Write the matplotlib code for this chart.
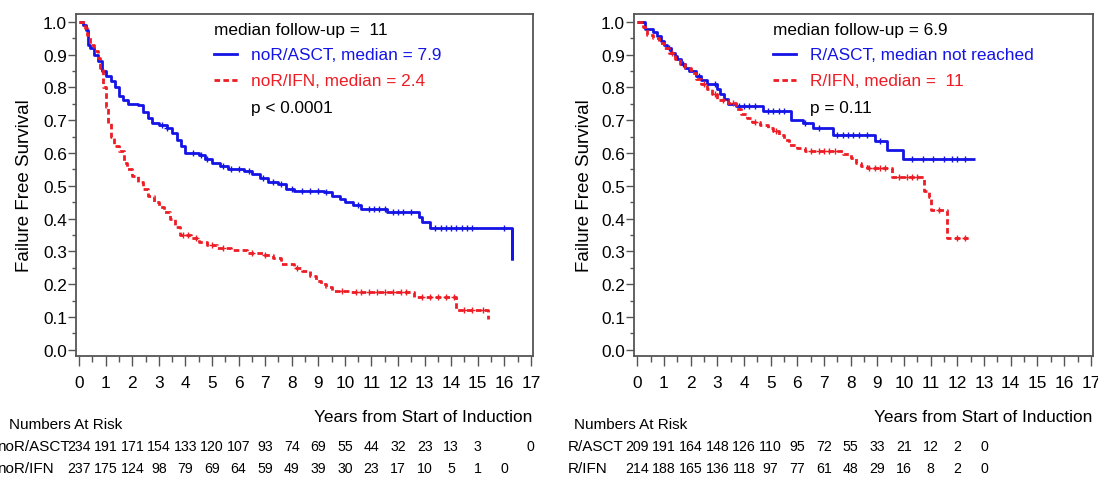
import numpy as np
import matplotlib
matplotlib.use("Agg")
import matplotlib.pyplot as plt
from matplotlib.lines import Line2D
import matplotlib.transforms as mtransforms

plt.rcParams['font.family'] = ['Liberation Sans', 'DejaVu Sans']

# ---------------- data ----------------
# Left panel: no remission
noR_ASCT_t = [0, 0.15, 0.25, 0.32, 0.4, 0.55, 0.7, 0.85, 1.0, 1.2, 1.35, 1.5, 1.65, 1.85, 2.2, 2.4,
              2.6, 2.75, 3.0, 3.3, 3.5, 3.7, 3.85, 4.0, 4.5, 4.75, 5.0, 5.3, 5.6, 6.2, 6.5, 6.8, 7.1,
              7.5, 7.8, 8.1, 9.2, 9.5, 9.8, 10.0, 10.3, 10.6, 11.6, 12.8, 12.9, 13.2, 16.3]
noR_ASCT_s = [1.0, 0.99, 0.975, 0.93, 0.92, 0.9, 0.88, 0.85, 0.835, 0.82, 0.8, 0.775, 0.76, 0.75,
              0.745, 0.725, 0.705, 0.69, 0.685, 0.675, 0.66, 0.64, 0.62, 0.6, 0.595, 0.58, 0.57,
              0.56, 0.55, 0.545, 0.535, 0.525, 0.51, 0.505, 0.49, 0.485, 0.48, 0.47, 0.46, 0.45,
              0.44, 0.43, 0.42, 0.405, 0.39, 0.37, 0.275]
noR_ASCT_end = 16.3
noR_ASCT_cens = [3.1, 3.3, 4.3, 4.6, 4.8, 5.4, 5.7, 6.0, 6.4, 6.9, 7.3, 7.6, 8.0, 8.4, 8.7, 9.0,
                 9.3, 10.5, 10.9, 11.1, 11.3, 11.5, 11.8, 12.0, 12.2, 12.5, 13.4, 13.6, 13.8, 14.0,
                 14.2, 14.4, 14.6, 14.8, 16.0]

noR_IFN_t = [0, 0.2, 0.3, 0.4, 0.55, 0.7, 0.8, 0.9, 1.0, 1.1, 1.2, 1.3, 1.5, 1.7, 1.8, 2.0, 2.2,
             2.4, 2.6, 2.8, 3.0, 3.2, 3.4, 3.6, 3.8, 4.2, 4.5, 4.8, 5.2, 5.7, 6.3, 6.9, 7.3, 7.6,
             8.1, 8.4, 8.7, 8.9, 9.1, 9.3, 9.5, 10.2, 12.6, 14.2, 15.4]
noR_IFN_s = [1.0, 0.98, 0.96, 0.93, 0.91, 0.89, 0.86, 0.8, 0.74, 0.69, 0.65, 0.62, 0.605, 0.57,
             0.55, 0.53, 0.51, 0.49, 0.47, 0.45, 0.435, 0.42, 0.4, 0.375, 0.35, 0.34, 0.33, 0.32,
             0.31, 0.305, 0.295, 0.29, 0.28, 0.26, 0.25, 0.24, 0.225, 0.21, 0.2, 0.19, 0.18,
             0.175, 0.162, 0.12, 0.095]
noR_IFN_end = 15.4
noR_IFN_cens = [3.9, 4.1, 4.4, 5.0, 5.4, 6.5, 7.0, 8.2, 9.9, 10.4, 10.6, 10.9, 11.2, 11.5, 11.8,
                12.1, 12.3, 12.9, 13.2, 13.5, 13.8, 14.1, 14.5, 14.8, 15.2]

# Right panel: remission
R_ASCT_t = [0, 0.3, 0.6, 0.75, 0.9, 1.0, 1.1, 1.25, 1.4, 1.5, 1.65, 1.8, 1.95, 2.2, 2.4, 2.6, 3.0,
            3.1, 3.25, 3.4, 3.7, 4.7, 5.75, 6.2, 6.6, 7.35, 8.9, 9.35, 9.95]
R_ASCT_s = [1.0, 0.978, 0.97, 0.955, 0.94, 0.93, 0.92, 0.905, 0.895, 0.885, 0.87, 0.86, 0.85,
            0.835, 0.822, 0.81, 0.795, 0.78, 0.765, 0.75, 0.742, 0.727, 0.70, 0.69, 0.675, 0.655,
            0.635, 0.61, 0.583]
R_ASCT_end = 12.65
R_ASCT_cens = [1.2, 1.7, 2.3, 2.9, 3.8, 4.0, 4.2, 4.4, 4.9, 5.1, 5.3, 5.5, 6.3, 6.8, 7.5, 7.7,
               7.9, 8.1, 8.3, 8.6, 9.1, 10.3, 10.7, 11.1, 11.5, 11.8, 12.0, 12.3]

R_IFN_t = [0, 0.2, 0.35, 0.6, 0.8, 1.0, 1.2, 1.4, 1.6, 1.8, 2.0, 2.2, 2.4, 2.6, 2.8, 3.0, 3.4, 3.7,
           3.9, 4.1, 4.3, 4.6, 4.9, 5.1, 5.3, 5.5, 5.7, 6.0, 6.3, 7.7, 8.0, 8.2, 8.4, 8.6, 9.55,
           10.75, 10.95, 11.0, 11.6]
R_IFN_s = [1.0, 0.985, 0.96, 0.95, 0.935, 0.92, 0.905, 0.885, 0.87, 0.86, 0.845, 0.825, 0.81,
           0.795, 0.78, 0.762, 0.752, 0.735, 0.72, 0.705, 0.695, 0.686, 0.675, 0.668, 0.655, 0.64,
           0.625, 0.615, 0.607, 0.598, 0.585, 0.57, 0.56, 0.554, 0.528, 0.483, 0.467, 0.427, 0.34]
R_IFN_end = 12.4
R_IFN_cens = [1.3, 2.5, 2.9, 3.2, 3.6, 4.4, 5.2, 6.5, 6.8, 7.0, 7.2, 7.4, 8.7, 8.9, 9.1, 9.3,
              9.8, 10.1, 10.3, 10.5, 11.3, 12.0, 12.3]

# Numbers at risk (one entry per year 0, 1, 2, ...)
noR_ASCT_risk = ["234", "191", "171", "154", "133", "120", "107", "93", "74", "69", "55", "44",
                 "32", "23", "13", "3", "", "0"]
noR_IFN_risk = ["237", "175", "124", "98", "79", "69", "64", "59", "49", "39", "30", "23", "17",
                "10", "5", "1", "0"]
R_ASCT_risk = ["209", "191", "164", "148", "126", "110", "95", "72", "55", "33", "21", "12", "2", "0"]
R_IFN_risk = ["214", "188", "165", "136", "118", "97", "77", "61", "48", "29", "16", "8", "2", "0"]

x_ticks = list(range(0, 18))
y_ticks = [0.0, 0.1, 0.2, 0.3, 0.4, 0.5, 0.6, 0.7, 0.8, 0.9, 1.0]

BLUE = '#1414e6'
RED = '#ee1c24'
FRAME = '#555555'
FS = 12.4
FS_T = 11.0
FS_N = 10.2

fig = plt.figure(figsize=(10.98, 4.81), dpi=100)
H = 481.0
W = 1098.0


def make_ax(left_px, right_px):
    return fig.add_axes([left_px / W, 1 - 357 / H, (right_px - left_px) / W, (357 - 15) / H])


def km(ax, t, s, end, cens, color, ls):
    t = np.asarray(t, float)
    s = np.asarray(s, float)
    tt = np.append(t, end)
    ss = np.append(s, s[-1])
    ax.step(tt, ss, where='post', color=color, lw=2.0, ls=ls, solid_capstyle='butt')
    c = np.asarray(cens, float)
    idx = np.searchsorted(t, c, side='right') - 1
    ax.plot(c, s[idx], ls='none', marker='+', ms=5, mew=1.0, color=color)


def style(ax, ylab_x):
    ax.set_xlim(-0.12, 17.08)
    ax.set_ylim(-0.019, 1.0235)
    ax.set_xticks(x_ticks)
    ax.set_xticks(np.arange(0.5, 17, 1.0), minor=True)
    ax.set_yticks(y_ticks)
    ax.set_yticklabels([f"{v:.1f}" for v in y_ticks])
    ax.set_yticks(np.arange(0.05, 1.0, 0.1), minor=True)
    for sp in ax.spines.values():
        sp.set_color(FRAME)
        sp.set_linewidth(1.3)
    ax.tick_params(axis='x', which='major', length=7.5, width=1.0, color=FRAME, pad=6,
                   labelsize=FS, direction='out')
    ax.tick_params(axis='x', which='minor', length=4, width=1.0, color=FRAME, direction='out')
    ax.tick_params(axis='y', which='major', length=5.5, width=1.0, color=FRAME, pad=1,
                   labelsize=FS, direction='out')
    ax.tick_params(axis='y', which='minor', length=3, width=1.0, color=FRAME, direction='out')
    ax.set_ylabel("Failure Free Survival", fontsize=13.5)
    ax.yaxis.set_label_coords(ylab_x, 0.5)
    ax.text(0.998, -0.178, "Years from Start of Induction", transform=ax.transAxes,
            ha='right', va='center', fontsize=FS)


def header(ax, lines):
    y_rows = [0.956, 0.883, 0.807, 0.728]
    ax.text(0.302, y_rows[0], lines[0], transform=ax.transAxes, ha='left', va='center',
            fontsize=FS, color='black')
    ax.add_line(Line2D([0.302, 0.352], [y_rows[1]] * 2, transform=ax.transAxes, color=BLUE, lw=2.0))
    ax.add_line(Line2D([0.302, 0.352], [y_rows[2]] * 2, transform=ax.transAxes, color=RED, lw=2.0,
                       ls=(0, (2, 1.2))))
    ax.text(0.383, y_rows[1], lines[1], transform=ax.transAxes, ha='left', va='center',
            fontsize=FS, color=BLUE)
    ax.text(0.383, y_rows[2], lines[2], transform=ax.transAxes, ha='left', va='center',
            fontsize=FS, color=RED)
    ax.text(0.383, y_rows[3], lines[3], transform=ax.transAxes, ha='left', va='center',
            fontsize=FS, color='black')


def risk_table(ax, title_x, label_x, labels, rows):
    trans = mtransforms.blended_transform_factory(ax.transData, ax.transAxes)
    ax.text(title_x, -0.199, "Numbers At Risk", transform=ax.transAxes, ha='left', va='center',
            fontsize=FS_T)
    ys = [-0.263, -0.327]
    for lab, row, y in zip(labels, rows, ys):
        ax.text(label_x, y, lab, transform=ax.transAxes, ha='left', va='center', fontsize=FS_T)
        for k, v in enumerate(row):
            ax.text(x_ticks[k], y, v, transform=trans, ha='center', va='center',
                    fontsize=FS_N, clip_on=False)


# Left panel
axL = make_ax(76, 533)
style(axL, -0.094)
km(axL, noR_ASCT_t, noR_ASCT_s, noR_ASCT_end, noR_ASCT_cens, BLUE, '-')
km(axL, noR_IFN_t, noR_IFN_s, noR_IFN_end, noR_IFN_cens, RED, (0, (2, 1.2)))
axL.vlines(noR_ASCT_end, noR_ASCT_s[-2], noR_ASCT_s[-1], color=BLUE, lw=2.0)
header(axL, ["median follow-up =  11", "noR/ASCT, median = 7.9", "noR/IFN, median = 2.4",
             "p < 0.0001"])
risk_table(axL, -0.147, -0.172, ["noR/ASCT", "noR/IFN"], [noR_ASCT_risk, noR_IFN_risk])

# Right panel
axR = make_ax(634, 1093)
style(axR, -0.089)
km(axR, R_ASCT_t, R_ASCT_s, R_ASCT_end, R_ASCT_cens, BLUE, '-')
km(axR, R_IFN_t, R_IFN_s, R_IFN_end, R_IFN_cens, RED, (0, (2, 1.2)))
header(axR, ["median follow-up = 6.9", "R/ASCT, median not reached", "R/IFN, median =  11",
             "p = 0.11"])
risk_table(axR, -0.131, -0.144, ["R/ASCT", "R/IFN"], [R_ASCT_risk, R_IFN_risk])

fig.savefig("out.png", dpi=100)
